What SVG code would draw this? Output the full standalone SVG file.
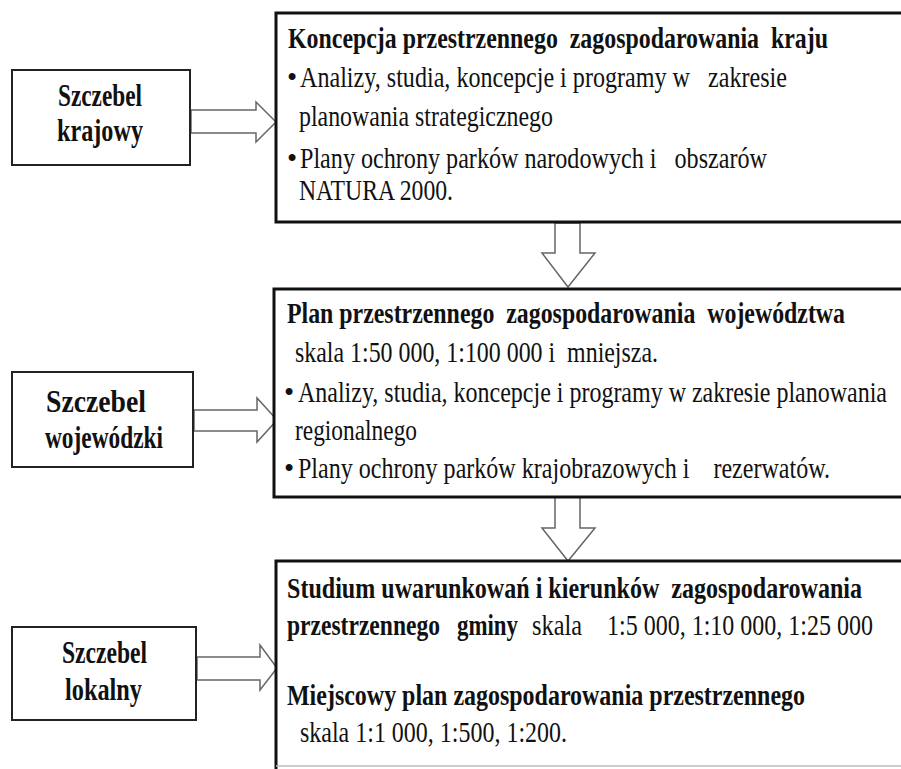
<svg xmlns="http://www.w3.org/2000/svg" width="901" height="769" viewBox="0 0 901 769" font-family="'Liberation Serif', 'Times New Roman', serif">
<defs>
<style>
text{font-family:'Liberation Serif','Times New Roman',serif;fill:#111;white-space:pre}
.b{font-weight:bold}
.t{font-size:29px}
.lab{font-size:31px;font-weight:bold}
.big{fill:#fff;stroke:#111;stroke-width:3}
.small{fill:#fff;stroke:#222;stroke-width:2}
.arr{fill:#fff;stroke:#666;stroke-width:1.5;stroke-linejoin:miter}
</style>
</defs>
<rect width="901" height="769" fill="#fff"/>
<g id="connectors">
<polygon class="arr" points="191,110 256,110 256,102 276,122 256,142 256,133 191,133"/>
<polygon class="arr" points="194,410 257,410 257,398 277,420 257,442 257,431 194,431"/>
<polygon class="arr" points="197,657 260,657 260,645 277,668 260,690 260,680 197,680"/>
<polygon class="arr" points="555,223 580,223 580,253 595,253 568,287 542,253 555,253"/>
<polygon class="arr" points="555,497 580,497 580,528 595,528 568,561 542,528 555,528"/>
</g>
<g id="krajowy">
<rect class="small" x="12" y="70" width="178" height="95"/>
<text class="lab" x="58" y="106" textLength="84" lengthAdjust="spacingAndGlyphs">Szczebel</text>
<text class="lab" x="57" y="141" textLength="86" lengthAdjust="spacingAndGlyphs">krajowy</text>
</g>
<g id="wojewodzki">
<rect class="small" x="12" y="372" width="181" height="95"/>
<text class="lab" x="46" y="412" textLength="100" lengthAdjust="spacingAndGlyphs">Szczebel</text>
<text class="lab" x="45" y="448" textLength="118" lengthAdjust="spacingAndGlyphs">wojewódzki</text>
</g>
<g id="lokalny">
<rect class="small" x="12" y="627" width="184" height="93"/>
<text class="lab" x="62" y="663" textLength="85" lengthAdjust="spacingAndGlyphs">Szczebel</text>
<text class="lab" x="65" y="700" textLength="77" lengthAdjust="spacingAndGlyphs">lokalny</text>
</g>
<g id="kpzk">
<rect class="big" x="276" y="13" width="640" height="209"/>
<text class="t b" x="288" y="48" textLength="540" lengthAdjust="spacingAndGlyphs">Koncepcja przestrzennego  zagospodarowania  kraju</text>
<text class="t" x="287" y="87">•</text>
<text class="t" x="300" y="87" textLength="487" lengthAdjust="spacingAndGlyphs">Analizy, studia, koncepcje i programy w   zakresie</text>
<text class="t" x="299" y="126" textLength="254" lengthAdjust="spacingAndGlyphs">planowania strategicznego</text>
<text class="t" x="287" y="168">•</text>
<text class="t" x="300" y="168" textLength="467" lengthAdjust="spacingAndGlyphs">Plany ochrony parków narodowych i   obszarów</text>
<text class="t" x="299" y="200" textLength="154" lengthAdjust="spacingAndGlyphs">NATURA 2000.</text>
</g>
<g id="pzpw">
<rect class="big" x="274" y="289" width="640" height="208"/>
<text class="t b" x="287" y="323" textLength="558" lengthAdjust="spacingAndGlyphs">Plan przestrzennego  zagospodarowania  województwa</text>
<text class="t" x="295" y="362" textLength="363" lengthAdjust="spacingAndGlyphs">skala 1:50 000, 1:100 000 i  mniejsza.</text>
<text class="t" x="284" y="402">•</text>
<text class="t" x="298" y="402" textLength="589" lengthAdjust="spacingAndGlyphs">Analizy, studia, koncepcje i programy w zakresie planowania</text>
<text class="t" x="295" y="440" textLength="122" lengthAdjust="spacingAndGlyphs">regionalnego</text>
<text class="t" x="284" y="478">•</text>
<text class="t" x="298" y="478" textLength="532" lengthAdjust="spacingAndGlyphs">Plany ochrony parków krajobrazowych i    rezerwatów.</text>
</g>
<g id="gmina">
<rect class="big" x="276" y="561" width="640" height="240"/>
<line x1="276" y1="766" x2="901" y2="766" stroke="#bbb" stroke-width="1.5"/>
<text class="t b" x="287" y="598" textLength="575" lengthAdjust="spacingAndGlyphs">Studium uwarunkowań i kierunków  zagospodarowania</text>
<text class="t b" x="287" y="635" textLength="153" lengthAdjust="spacingAndGlyphs">przestrzennego</text>
<text class="t b" x="457" y="635" textLength="61" lengthAdjust="spacingAndGlyphs">gminy</text>
<text class="t" x="532" y="635" textLength="50" lengthAdjust="spacingAndGlyphs">skala</text>
<text class="t" x="607" y="635" textLength="266" lengthAdjust="spacingAndGlyphs">1:5 000, 1:10 000, 1:25 000</text>
<text class="t b" x="287" y="705" textLength="518" lengthAdjust="spacingAndGlyphs">Miejscowy plan zagospodarowania przestrzennego</text>
<text class="t" x="300" y="742" textLength="267" lengthAdjust="spacingAndGlyphs">skala 1:1 000, 1:500, 1:200.</text>
</g>
</svg>
